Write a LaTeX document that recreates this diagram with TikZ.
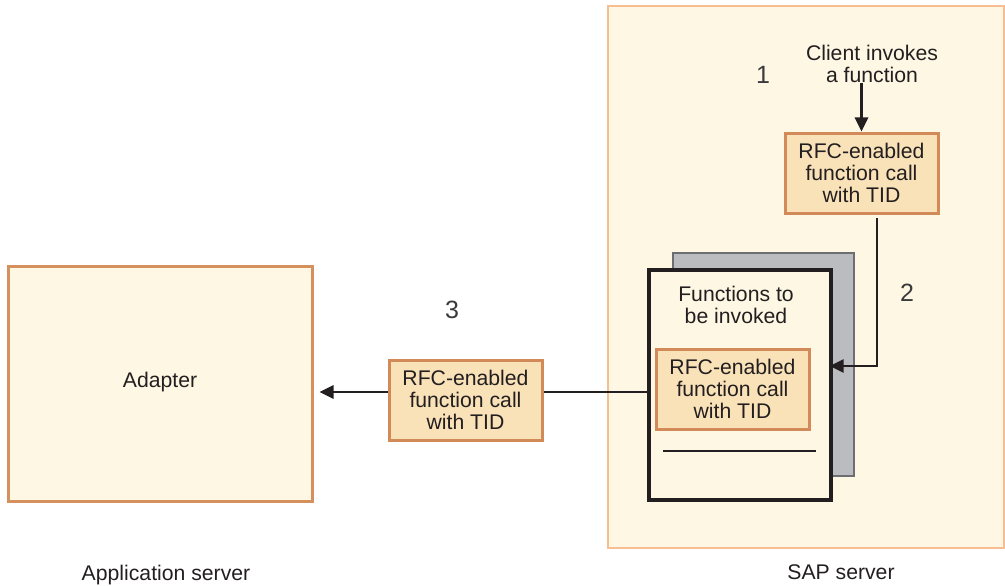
\documentclass[tikz,border=0pt]{standalone}
\usepackage{fontspec}
\setmainfont{Liberation Sans}
\usetikzlibrary{arrows.meta}
\definecolor{cream}{HTML}{FEF7E4}
\definecolor{sapborder}{HTML}{F7BE92}
\definecolor{adborder}{HTML}{D4915E}
\definecolor{rfcfill}{HTML}{F9E1B8}
\definecolor{rfcborder}{HTML}{D18A58}
\definecolor{grayfill}{HTML}{BBBCC0}
\definecolor{grayborder}{HTML}{6D6E71}
\definecolor{ink}{HTML}{231F20}
\definecolor{numink}{HTML}{3A3A3C}
\tikzset{
  txt/.style={font=\fontsize{21.2}{22}\selectfont, text=ink, align=center, inner sep=0pt},
  num/.style={font=\fontsize{25}{27}\selectfont, text=numink, inner sep=0pt},
  rfcbox/.style={draw=rfcborder, fill=rfcfill, line width=3pt, minimum width=153pt, minimum height=80pt, txt},
  conn/.style={draw=ink, line width=2.6pt},
  arr/.style={conn, -{Triangle[length=14pt,width=13pt]}},
}
\begin{document}
\begin{tikzpicture}[x=1pt,y=-1pt]
\useasboundingbox (0,0) rectangle (1005,586);
% SAP server region
\node[draw=sapborder, fill=cream, line width=1.8pt, minimum width=396pt, minimum height=542pt, inner sep=0pt] (sap) at (806,277) {};
\node[txt] (saplabel) at (841,572) {SAP server};
% Adapter
\node[draw=adborder, fill=cream, line width=3pt, minimum width=304pt, minimum height=235pt, txt] (adapter) at (160,383.5) {};
\node[txt] (adlabel) at (160,382) {Adapter};
\node[txt] (applabel) at (166,575) {Application server};
% client text
\node[txt] (client) at (872,64) {Client invokes\\a function};
\node[num] (n1) at (763,75) {1};
\node[num] (n2) at (907,293) {2};
\node[num] (n3) at (452,310) {3};
% top RFC
\node[rfcbox] (top) at (861.5,173) {RFC-enabled\\function call\\with TID};
% stacked documents
\node[draw=grayborder, fill=grayfill, line width=1.8pt, minimum width=181pt, minimum height=223pt, inner sep=0pt] (back) at (763.5,364.5) {};
\node[draw=ink, fill=cream, line width=3.2pt, minimum width=182pt, minimum height=230pt, inner sep=0pt] (doc) at (740,385) {};
\node[txt] (doctitle) at (736,305) {Functions to\\be invoked};
\node[rfcbox] (inner) at (732.5,389) {RFC-enabled\\function call\\with TID};
\coordinate (ruleL) at (663,451);
\coordinate (ruleR) at (816,451);
\draw[conn] (ruleL) -- (ruleR);
% middle RFC
\node[rfcbox] (mid) at (465.5,400) {RFC-enabled\\function call\\with TID};
% connectors
\draw[arr] (client.south -| top.north) -- (top.north);
\coordinate (t2) at (877,218);
\draw[arr, shorten >=-3pt] (t2) |- ([yshift=19pt]doc.east);
\draw[conn] (doc.west |- 0,392) -- (mid.east |- 0,392);
\draw[arr, shorten >=6pt] (mid.west |- 0,392) -- (adapter.east |- 0,392);
\end{tikzpicture}
\end{document}
